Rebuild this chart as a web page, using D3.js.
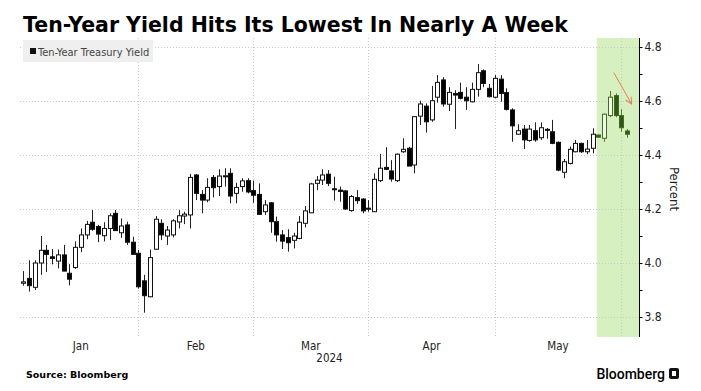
<!DOCTYPE html>
<html>
<head>
<meta charset="utf-8">
<script src="https://cdnjs.cloudflare.com/ajax/libs/d3/7.8.5/d3.min.js"></script>
<style>
    body { margin: 0; background: #fff; }
    svg { display: block; }
</style>
</head>
<body>
<svg id="chart" width="701" height="391"></svg>
<script>
// Daily OHLC of the ten-year Treasury yield, Jan 2 2024 onward (one entry per trading day)
const opens = [
    3.925, 3.943, 3.910, 4.000, 4.047, 4.023, 4.007, 4.030, 3.962, 3.983,
    4.058, 4.104, 4.151, 4.135, 4.101, 4.128, 4.184, 4.112, 4.141, 4.077,
    4.036, 3.934, 3.875, 4.051, 4.147, 4.100, 4.104, 4.152, 4.174, 4.178,
    4.326, 4.254, 4.233, 4.317, 4.283, 4.320, 4.332, 4.258, 4.283, 4.305,
    4.268, 4.254, 4.190, 4.223, 4.153, 4.104, 4.094, 4.084, 4.091, 4.147,
    4.186, 4.295, 4.307, 4.329, 4.275, 4.270, 4.267, 4.194, 4.242, 4.237,
    4.203, 4.190, 4.305, 4.354, 4.341, 4.305, 4.412, 4.425, 4.363, 4.544,
    4.581, 4.530, 4.614, 4.678, 4.588, 4.628, 4.632, 4.614, 4.597, 4.643,
    4.712, 4.647, 4.614, 4.681, 4.631, 4.567, 4.477, 4.496, 4.454, 4.490,
    4.464, 4.495, 4.486, 4.447, 4.336, 4.369, 4.412, 4.443, 4.412, 4.425,
    4.474, 4.462, 4.546, 4.620, 4.546, 4.489
];
const highs = [
    3.970, 4.010, 4.010, 4.100, 4.067, 4.052, 4.050, 4.067, 3.996, 4.080,
    4.128, 4.156, 4.196, 4.141, 4.151, 4.184, 4.196, 4.165, 4.153, 4.097,
    4.048, 3.956, 4.050, 4.174, 4.162, 4.137, 4.162, 4.196, 4.190, 4.330,
    4.330, 4.270, 4.314, 4.326, 4.347, 4.351, 4.351, 4.297, 4.314, 4.314,
    4.305, 4.295, 4.233, 4.226, 4.172, 4.122, 4.125, 4.112, 4.174, 4.211,
    4.297, 4.322, 4.347, 4.344, 4.320, 4.283, 4.270, 4.252, 4.270, 4.240,
    4.233, 4.332, 4.404, 4.429, 4.381, 4.406, 4.462, 4.430, 4.544, 4.601,
    4.591, 4.656, 4.696, 4.688, 4.651, 4.640, 4.668, 4.651, 4.668, 4.737,
    4.717, 4.663, 4.696, 4.696, 4.647, 4.573, 4.514, 4.511, 4.511, 4.521,
    4.521, 4.500, 4.530, 4.450, 4.385, 4.431, 4.456, 4.446, 4.456, 4.499,
    4.476, 4.554, 4.637, 4.628, 4.570, 4.496
];
const lows = [
    3.916, 3.894, 3.900, 3.956, 3.967, 3.995, 3.980, 3.970, 3.917, 3.978,
    4.040, 4.088, 4.119, 4.077, 4.080, 4.085, 4.120, 4.093, 4.067, 4.032,
    3.905, 3.816, 3.873, 4.050, 4.085, 4.067, 4.095, 4.128, 4.144, 4.128,
    4.233, 4.184, 4.225, 4.243, 4.248, 4.283, 4.221, 4.221, 4.264, 4.258,
    4.223, 4.180, 4.178, 4.112, 4.079, 4.052, 4.042, 4.054, 4.088, 4.132,
    4.186, 4.270, 4.289, 4.285, 4.231, 4.227, 4.196, 4.190, 4.219, 4.184,
    4.190, 4.190, 4.300, 4.344, 4.301, 4.300, 4.408, 4.359, 4.332, 4.511,
    4.483, 4.523, 4.594, 4.579, 4.563, 4.496, 4.606, 4.567, 4.595, 4.616,
    4.651, 4.613, 4.610, 4.597, 4.565, 4.449, 4.475, 4.422, 4.449, 4.449,
    4.456, 4.460, 4.440, 4.340, 4.314, 4.365, 4.410, 4.408, 4.403, 4.406,
    4.464, 4.449, 4.540, 4.540, 4.486, 4.464
];
const closes = [
    3.930, 3.916, 4.000, 4.047, 4.032, 4.017, 4.030, 3.970, 3.940, 4.058,
    4.104, 4.143, 4.125, 4.107, 4.128, 4.175, 4.120, 4.137, 4.077, 4.032,
    3.912, 3.879, 4.020, 4.162, 4.104, 4.122, 4.156, 4.175, 4.181, 4.317,
    4.258, 4.233, 4.280, 4.279, 4.322, 4.323, 4.248, 4.280, 4.304, 4.263,
    4.251, 4.180, 4.215, 4.153, 4.104, 4.081, 4.075, 4.100, 4.151, 4.193,
    4.293, 4.307, 4.326, 4.295, 4.272, 4.265, 4.200, 4.246, 4.231, 4.193,
    4.200, 4.310, 4.351, 4.347, 4.311, 4.403, 4.421, 4.359, 4.542, 4.589,
    4.523, 4.601, 4.669, 4.589, 4.632, 4.622, 4.610, 4.601, 4.643, 4.705,
    4.665, 4.616, 4.684, 4.628, 4.569, 4.508, 4.490, 4.456, 4.496, 4.456,
    4.501, 4.493, 4.443, 4.344, 4.375, 4.421, 4.443, 4.412, 4.422, 4.477,
    4.466, 4.551, 4.614, 4.546, 4.501, 4.477
];

// Axis / annotation values
const monthLabels = ["Jan", "Feb", "Mar", "Apr", "May"];
const monthEnds = [20, 40, 60, 82, 104];   // index of last trading day of each month
const yearLabel = "2024";
const yMajor = [3.8, 4.0, 4.2, 4.4, 4.6, 4.8];
const yMinor = [3.9, 4.1, 4.3, 4.5, 4.7];
const highlightFrom = 99.75;               // shaded "latest week" band starts here
const arrowFrom = [102.7, 4.705];
const arrowTo = [105.8, 4.589];

const svg = d3.select("#chart");

// plot frame
const plot = { left: 20, right: 639, top: 38, bottom: 337 };

const x = d3.scaleLinear().domain([0, 105]).range([23.3, 627]);
const y = d3.scaleLinear().domain([3.8, 4.8]).range([317, 47]);

const candles = opens.map((o, i) => ({
    i: i, open: o, high: highs[i], low: lows[i], close: closes[i]
}));

// Title
const title = svg.append("text")
    .attr("x", 23)
    .attr("y", 31.5)
    .style("font-family", "DejaVu Sans, Verdana, sans-serif")
    .style("font-weight", "bold")
    .style("font-size", "18px")
    .attr("fill", "#000")
    .text("Ten-Year Yield Hits Its Lowest In Nearly A Week");
// fit title to the width it has in the original
const tw = title.node().getComputedTextLength();
title.style("font-size", (18 * 545 / tw).toFixed(2) + "px");

// highlight band
svg.append("rect")
    .attr("x", x(highlightFrom))
    .attr("y", plot.top)
    .attr("width", plot.right - x(highlightFrom))
    .attr("height", plot.bottom - plot.top)
    .attr("fill", "#d7f0bf");

// horizontal grid
svg.append("g")
    .selectAll("line")
    .data(yMajor)
    .enter()
    .append("line")
    .attr("x1", plot.left)
    .attr("x2", plot.right)
    .attr("y1", d => Math.round(y(d)) + 0.5)
    .attr("y2", d => Math.round(y(d)) + 0.5)
    .attr("stroke", "#c8c8c8")
    .attr("stroke-dasharray", "1,2");

// vertical month grid
svg.append("g")
    .selectAll("line")
    .data(monthEnds)
    .enter()
    .append("line")
    .attr("x1", d => Math.round(x(d)) + 0.5)
    .attr("x2", d => Math.round(x(d)) + 0.5)
    .attr("y1", plot.top)
    .attr("y2", plot.bottom)
    .attr("stroke", "#c8c8c8")
    .attr("stroke-dasharray", "1,2");

// legend
const legend = svg.append("g");
legend.append("rect")
    .attr("x", 23).attr("y", 40)
    .attr("width", 130).attr("height", 22)
    .attr("fill", "#efefef");
legend.append("rect")
    .attr("x", 30).attr("y", 48)
    .attr("width", 6).attr("height", 6)
    .attr("fill", "#111");
legend.append("text")
    .attr("x", 38).attr("y", 55.5)
    .style("font-family", "DejaVu Sans Condensed, DejaVu Sans, sans-serif")
    .style("font-size", "11px")
    .attr("fill", "#444")
    .text("Ten-Year Treasury Yield");

// candlesticks
const bodyW = 4;
const inBand = d => d.i >= highlightFrom;
const cg = svg.append("g");
const candle = cg.selectAll("g")
    .data(candles)
    .enter()
    .append("g");

candle.append("line")
    .attr("x1", d => Math.round(x(d.i)) + 0.5)
    .attr("x2", d => Math.round(x(d.i)) + 0.5)
    .attr("y1", d => y(d.high))
    .attr("y2", d => y(d.low))
    .attr("stroke", d => inBand(d) ? "#4d7a2e" : "#222")
    .attr("stroke-width", 1);

candle.append("rect")
    .attr("x", d => Math.round(x(d.i)) - bodyW / 2 + 0.5)
    .attr("y", d => y(Math.max(d.open, d.close)))
    .attr("width", bodyW)
    .attr("height", d => Math.max(1, Math.abs(y(d.open) - y(d.close))))
    .attr("fill", d => {
        if (d.close >= d.open) return inBand(d) ? "#f2faea" : "#fff";
        return inBand(d) ? "#2f5716" : "#000";
    })
    .attr("stroke", d => inBand(d) ? "#3f6b22" : "#111")
    .attr("stroke-width", 1);

// arrow annotation
svg.append("defs").append("marker")
    .attr("id", "head")
    .attr("viewBox", "0 0 10 10")
    .attr("refX", 9).attr("refY", 5)
    .attr("markerWidth", 8).attr("markerHeight", 8)
    .attr("orient", "auto")
    .append("path")
    .attr("d", "M1,1 L9,5 L1,9")
    .attr("fill", "none")
    .attr("stroke", "#e0805a")
    .attr("stroke-width", 1.2);

svg.append("line")
    .attr("x1", x(arrowFrom[0])).attr("y1", y(arrowFrom[1]))
    .attr("x2", x(arrowTo[0])).attr("y2", y(arrowTo[1]))
    .attr("stroke", "#e0805a")
    .attr("stroke-width", 1)
    .attr("marker-end", "url(#head)");

// right axis
const axisG = svg.append("g")
    .attr("transform", `translate(${plot.right + 0.5},0)`);
axisG.append("line")
    .attr("y1", plot.top).attr("y2", plot.bottom)
    .attr("stroke", "#000");
axisG.selectAll(".minor")
    .data(yMinor)
    .enter()
    .append("line")
    .attr("x1", 0).attr("x2", 3)
    .attr("y1", d => Math.round(y(d)) + 0.5)
    .attr("y2", d => Math.round(y(d)) + 0.5)
    .attr("stroke", "#000");
axisG.call(d3.axisRight(y).tickValues(yMajor).tickFormat(d3.format(".1f")).tickSize(3).tickPadding(2))
    .call(g => g.select(".domain").remove())
    .call(g => g.selectAll("text")
        .style("font-family", "DejaVu Sans Condensed, DejaVu Sans, sans-serif")
        .style("font-size", "12px")
        .attr("fill", "#222"));

svg.append("text")
    .attr("transform", `translate(670,189) rotate(90)`)
    .attr("text-anchor", "middle")
    .style("font-family", "DejaVu Sans Condensed, DejaVu Sans, sans-serif")
    .style("font-size", "13px")
    .attr("fill", "#222")
    .text("Percent");

// month labels
const bounds = [0].concat(monthEnds);
svg.append("g")
    .selectAll("text")
    .data(monthLabels)
    .enter()
    .append("text")
    .attr("x", (d, i) => x((bounds[i] + bounds[i + 1]) / 2))
    .attr("y", 350)
    .attr("text-anchor", "middle")
    .style("font-family", "DejaVu Sans Condensed, DejaVu Sans, sans-serif")
    .style("font-size", "11.5px")
    .attr("fill", "#222")
    .text(d => d);

svg.append("text")
    .attr("x", (plot.left + plot.right) / 2)
    .attr("y", 362)
    .attr("text-anchor", "middle")
    .style("font-family", "DejaVu Sans Condensed, DejaVu Sans, sans-serif")
    .style("font-size", "11.5px")
    .attr("fill", "#222")
    .text(yearLabel);

// footer
svg.append("text")
    .attr("x", 26).attr("y", 378)
    .style("font-family", "DejaVu Sans, Verdana, sans-serif")
    .style("font-weight", "bold")
    .style("font-size", "9.5px")
    .attr("fill", "#000")
    .text("Source: Bloomberg");

svg.append("text")
    .attr("x", 665).attr("y", 379)
    .attr("text-anchor", "end")
    .style("font-family", "Roboto, Liberation Sans, sans-serif")
    .style("font-weight", "500")
    .style("font-size", "14px")
    .attr("fill", "#000")
    .text("Bloomberg");
svg.append("rect")
    .attr("x", 669).attr("y", 368)
    .attr("width", 10).attr("height", 11)
    .attr("rx", 2)
    .attr("fill", "#111");
svg.append("rect")
    .attr("x", 672).attr("y", 371)
    .attr("width", 4).attr("height", 5)
    .attr("fill", "#fff");
</script>
</body>
</html>
